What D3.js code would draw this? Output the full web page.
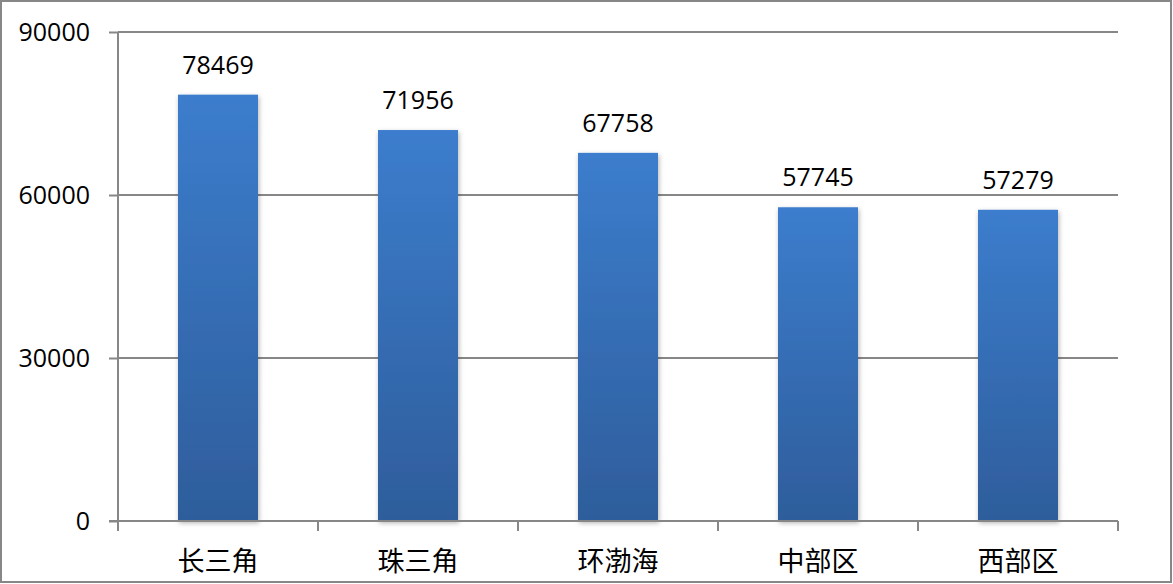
<!DOCTYPE html>
<html>
<head>
<meta charset="utf-8">
<script src="https://cdn.jsdelivr.net/npm/d3@7"></script>
<style>
body{margin:0;background:#fff;}
</style>
</head>
<body>
<svg id="chart" width="1173" height="584"></svg>
<script>
var categories = ['长三角','珠三角','环渤海','中部区','西部区'];
var values = [78469, 71956, 67758, 57745, 57279];
var yTicks = [0, 30000, 60000, 90000];

var width = 1173;
var height = 584;
var marginLeft = 118;
var marginRight = 55;
var marginTop = 32;
var marginBottom = 63;

var svg = d3.select('#chart');

var defs = svg.append('defs');
var grad = defs.append('linearGradient')
	.attr('id','barGrad')
	.attr('x1','0').attr('y1','0').attr('x2','0').attr('y2','1');
grad.append('stop').attr('offset','0%').attr('stop-color','#3c7dcd');
grad.append('stop').attr('offset','100%').attr('stop-color','#2e5d9b');

var shadow = defs.append('filter').attr('id','shadow')
	.attr('x','-20%').attr('y','-5%').attr('width','140%').attr('height','115%');
shadow.append('feDropShadow')
	.attr('dx',1).attr('dy',2).attr('stdDeviation',2.5)
	.attr('flood-color','#000').attr('flood-opacity',0.3);

// outer border
svg.append('rect')
	.attr('x',1).attr('y',1)
	.attr('width',width-3).attr('height',height-3)
	.attr('fill','#fff')
	.attr('stroke','#878787')
	.attr('stroke-width',2);

var x = d3.scaleBand()
	.domain(categories)
	.range([marginLeft, width-marginRight])
	.paddingInner(0.6)
	.paddingOuter(0.3);

var xBound = d3.scaleLinear()
	.domain([0, categories.length])
	.range([marginLeft, width-marginRight]);

var y = d3.scaleLinear()
	.domain([0, 90000])
	.range([height-marginBottom, marginTop]);

// y ticks and labels
var yAxis = svg.append('g')
	.attr('transform','translate('+marginLeft+',0)')
	.call(d3.axisLeft(y).tickValues(yTicks).tickSize(9).tickFormat(d3.format('d')).tickPadding(19));
yAxis.select('.domain').remove();
yAxis.selectAll('.tick line').attr('stroke','#878787').attr('stroke-width',2);
yAxis.selectAll('.tick text')
	.attr('fill','#000')
	.style('font-family','"Open Sans", "DejaVu Sans", sans-serif')
	.style('font-size','25px');

// gridlines
svg.append('g').selectAll('line')
	.data(yTicks)
	.enter()
	.append('line')
	.attr('x1',marginLeft).attr('x2',width-marginRight)
	.attr('y1',function(d){ return y(d) }).attr('y2',function(d){ return y(d) })
	.attr('stroke','#878787')
	.attr('stroke-width',2);

// bars
svg.append('g').selectAll('rect')
	.data(values)
	.enter()
	.append('rect')
	.attr('x',function(d,i){ return x(categories[i]) })
	.attr('y',function(d){ return y(d) })
	.attr('width',x.bandwidth())
	.attr('height',function(d){ return y(0)-y(d) })
	.attr('fill','url(#barGrad)')
	.attr('filter','url(#shadow)');

// axis lines on top
svg.append('line')
	.attr('x1',marginLeft).attr('x2',marginLeft)
	.attr('y1',marginTop).attr('y2',y(0)+10)
	.attr('stroke','#878787').attr('stroke-width',2);
svg.append('line')
	.attr('x1',marginLeft-9).attr('x2',width-marginRight)
	.attr('y1',y(0)).attr('y2',y(0))
	.attr('stroke','#878787').attr('stroke-width',2);
svg.append('g').selectAll('line')
	.data(d3.range(1, categories.length+1))
	.enter()
	.append('line')
	.attr('x1',function(d){ return xBound(d) }).attr('x2',function(d){ return xBound(d) })
	.attr('y1',y(0)).attr('y2',y(0)+10)
	.attr('stroke','#878787').attr('stroke-width',2);

// value labels
svg.append('g').selectAll('text')
	.data(values)
	.enter()
	.append('text')
	.attr('x',function(d,i){ return x(categories[i])+x.bandwidth()/2 })
	.attr('y',function(d){ return y(d)-21 })
	.style('text-anchor','middle')
	.style('font-family','"Open Sans", "DejaVu Sans", sans-serif')
	.style('font-size','25px')
	.attr('fill','#000')
	.text(function(d){ return d });

// category labels
svg.append('g').selectAll('text')
	.data(categories)
	.enter()
	.append('text')
	.attr('x',function(d){ return x(d)+x.bandwidth()/2 })
	.attr('y',y(0)+50)
	.style('text-anchor','middle')
	.style('font-family','"Noto Sans CJK SC", sans-serif')
	.style('font-size','27px')
	.attr('fill','#000')
	.text(function(d){ return d });
</script>
</body>
</html>
